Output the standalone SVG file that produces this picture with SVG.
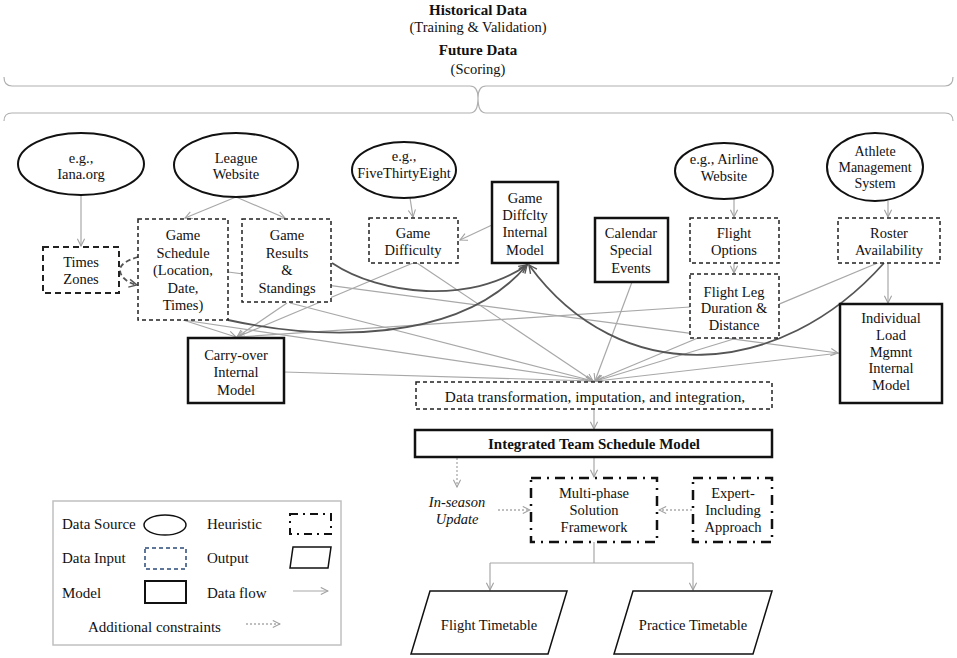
<svg xmlns="http://www.w3.org/2000/svg" width="957" height="658" viewBox="0 0 957 658">
<style>
text{font-family:"Liberation Serif","Times New Roman",serif;font-size:14.5px;fill:#111;text-anchor:middle}
.b{font-weight:bold;font-size:15px}
.lg{text-anchor:start;font-size:15px}
.it{font-style:italic}
.sm{font-size:14px}
.src{fill:#fff;stroke:#111;stroke-width:2}
.inp{fill:#fff;stroke:#222;stroke-width:1.5;stroke-dasharray:4,3}
.inp2{fill:#fff;stroke:#222;stroke-width:2;stroke-dasharray:6,4}
.mdl{fill:#fff;stroke:#111;stroke-width:2.5}
.heu{fill:#fff;stroke:#111;stroke-width:2.5;stroke-dasharray:10,6,2,6}
.out{fill:#fff;stroke:#111;stroke-width:1.5}
.fl{fill:none;stroke:#a8a8a8;stroke-width:1.2;marker-end:url(#ag)}
.fn{fill:none;stroke:#a8a8a8;stroke-width:1.2}
.dk{fill:none;stroke:#555;stroke-width:1.8;marker-end:url(#ad)}
.dt{fill:none;stroke:#aaa;stroke-width:1.3;stroke-dasharray:2,2;marker-end:url(#ag)}
.br{fill:none;stroke:#b0b0b0;stroke-width:1.2}
</style>
<defs>
<marker id="ag" viewBox="0 0 10 10" refX="9" refY="5" markerWidth="9" markerHeight="9" markerUnits="userSpaceOnUse" orient="auto"><path d="M1,1 L9,5 L1,9" fill="none" stroke="#a0a0a0" stroke-width="1.2"/></marker>
<marker id="ad" viewBox="0 0 10 10" refX="9" refY="5" markerWidth="10" markerHeight="10" markerUnits="userSpaceOnUse" orient="auto"><path d="M1,1 L9,5 L1,9" fill="none" stroke="#555" stroke-width="1.4"/></marker>
</defs>

<g id="header">
<text class="b" x="478" y="15">Historical Data</text>
<text x="478" y="32">(Training &amp; Validation)</text>
<text class="b" x="478" y="55">Future Data</text>
<text x="478" y="74">(Scoring)</text>
<path class="br" d="M4,77 Q4,86 12,86 L470,86 Q478,86 478,98 Q478,86 486,86 L945,86 Q953,86 953,77"/>
<path class="br" d="M4,121 Q4,113 12,113 L470,113 Q478,113 478,98 Q478,113 486,113 L945,113 Q953,113 953,121"/>
</g>

<g id="connectors">
<line class="fl" x1="81" y1="196" x2="81" y2="246"/>
<line class="fl" x1="236" y1="197" x2="185" y2="218"/>
<line class="fl" x1="236" y1="197" x2="285" y2="218"/>
<line class="fl" x1="410" y1="198" x2="413" y2="217"/>
<line class="fl" x1="492" y1="225" x2="460" y2="240"/>
<line class="fl" x1="734" y1="199" x2="734" y2="217"/>
<line class="fl" x1="734" y1="263" x2="734" y2="273"/>
<line class="fl" x1="888" y1="201" x2="888" y2="217"/>
<line class="fl" x1="888" y1="263" x2="888" y2="303"/>
<line class="fl" x1="183" y1="320" x2="236" y2="337"/>
<line class="fl" x1="287" y1="303" x2="237" y2="337"/>
<line class="fl" x1="413" y1="263" x2="237" y2="337"/>
<line class="fl" x1="690" y1="307" x2="238" y2="337"/>
<line class="fl" x1="228" y1="272" x2="838" y2="353"/>
<line class="fl" x1="183" y1="320" x2="593" y2="381"/>
<line class="fl" x1="290" y1="303" x2="593" y2="381"/>
<line class="fl" x1="417" y1="263" x2="593" y2="381"/>
<line class="fl" x1="284" y1="372" x2="593" y2="381"/>
<line class="fl" x1="632" y1="282" x2="595" y2="381"/>
<line class="fl" x1="880" y1="262" x2="595" y2="381"/>
<line class="fl" x1="737" y1="338" x2="596" y2="381"/>
<line class="fl" x1="840" y1="353" x2="597" y2="381"/>
<line class="fl" x1="594" y1="409" x2="594" y2="429"/>
<line class="fl" x1="594" y1="457" x2="594" y2="477"/>
<path class="fn" d="M594,542 V563 M490,563 H693"/>
<line class="fl" x1="490" y1="563" x2="490" y2="590"/>
<line class="fl" x1="693" y1="563" x2="693" y2="590"/>
<line class="dt" x1="457" y1="458" x2="457" y2="487"/>
<line class="dt" x1="498" y1="510" x2="530" y2="510"/>
<line class="dt" x1="692" y1="510" x2="659" y2="510"/>
<path class="dk" d="M332,263 C380,295 470,305 527,265"/>
<path class="dk" d="M228,320 C320,340 460,345 527,265"/>
<path class="dk" d="M884,263 C780,380 620,390 529,265"/>
<path class="dk" stroke-dasharray="5,3" d="M138,257 C128,260 120,264 120,270 C120,277 128,283 137,285"/>
</g>

<g id="iana"><ellipse class="src" cx="81" cy="164" rx="63" ry="31"/><text x="81" y="163">e.g.,</text><text x="81" y="179">Iana.org</text></g>
<g id="league"><ellipse class="src" cx="236" cy="165" rx="62" ry="32"/><text x="236" y="163">League</text><text x="236" y="179">Website</text></g>
<g id="fivethirtyeight"><ellipse class="src" cx="404" cy="170" rx="52" ry="28"/><text x="404" y="161">e.g.,</text><text x="404" y="178">FiveThirtyEight</text></g>
<g id="airline"><ellipse class="src" cx="724" cy="171" rx="49" ry="28"/><text x="724" y="164">e.g., Airline</text><text x="724" y="181">Website</text></g>
<g id="athlete"><ellipse class="src" cx="875" cy="167" rx="48" ry="34"/><text class="sm" x="875" y="156">Athlete</text><text class="sm" x="875" y="172">Management</text><text class="sm" x="875" y="188">System</text></g>

<g id="timezones"><rect class="inp2" x="43" y="247" width="76" height="46"/><text x="81" y="267">Times</text><text x="81" y="284">Zones</text></g>
<g id="gameschedule"><rect class="inp" x="138" y="219" width="90" height="101"/><text x="183" y="240">Game</text><text x="183" y="258">Schedule</text><text x="183" y="275">(Location,</text><text x="183" y="293">Date,</text><text x="183" y="310">Times)</text></g>
<g id="gameresults"><rect class="inp" x="242" y="219" width="89" height="83"/><text x="287" y="240">Game</text><text x="287" y="258">Results</text><text x="287" y="275">&amp;</text><text x="287" y="293">Standings</text></g>
<g id="gamedifficulty"><rect class="inp" x="369" y="218" width="89" height="45"/><text x="413" y="238">Game</text><text x="413" y="255">Difficulty</text></g>
<g id="gamediffmodel"><rect class="mdl" x="492" y="182" width="66" height="81"/><text x="525" y="203">Game</text><text x="525" y="220">Diffclty</text><text x="525" y="237">Internal</text><text x="525" y="255">Model</text></g>
<g id="calendar"><rect class="mdl" x="595" y="218" width="73" height="64"/><text x="631" y="238">Calendar</text><text x="631" y="255">Special</text><text x="631" y="273">Events</text></g>
<g id="flightoptions"><rect class="inp" x="690" y="218" width="89" height="45"/><text x="734" y="238">Flight</text><text x="734" y="255">Options</text></g>
<g id="roster"><rect class="inp" x="838" y="218" width="102" height="45"/><text x="889" y="238">Roster</text><text x="889" y="255">Availability</text></g>
<g id="flightleg"><rect class="inp" x="690" y="274" width="89" height="64"/><text x="734" y="297">Flight Leg</text><text x="734" y="313">Duration &amp;</text><text x="734" y="330">Distance</text></g>
<g id="carryover"><rect class="mdl" x="188" y="338" width="96" height="65"/><text x="236" y="360">Carry-over</text><text x="236" y="377">Internal</text><text x="236" y="395">Model</text></g>
<g id="individualload"><rect class="mdl" x="840" y="304" width="102" height="99"/><text x="891" y="323">Individual</text><text x="891" y="340">Load</text><text x="891" y="357">Mgmnt</text><text x="891" y="373">Internal</text><text x="891" y="390">Model</text></g>
<g id="datatransform"><rect class="inp" x="416" y="382" width="356" height="27"/><text x="595" y="402" style="font-size:15.3px">Data transformation, imputation, and integration,</text></g>
<g id="integrated"><rect class="mdl" x="415" y="430" width="357" height="27"/><text class="b" x="594" y="449">Integrated Team Schedule Model</text></g>
<g id="inseason"><text class="it" x="457" y="507">In-season</text><text class="it" x="457" y="524">Update</text></g>
<g id="multiphase"><rect class="heu" x="531" y="478" width="126" height="64"/><text x="594" y="498">Multi-phase</text><text x="594" y="515">Solution</text><text x="594" y="532">Framework</text></g>
<g id="expert"><rect class="heu" x="693" y="478" width="79" height="64"/><text x="733" y="498">Expert-</text><text x="733" y="515">Including</text><text x="733" y="532">Approach</text></g>
<g id="flighttimetable"><polygon class="out" points="430,591 567,591 548,654 411,654"/><text x="489" y="630">Flight Timetable</text></g>
<g id="practicetimetable"><polygon class="out" points="633,591 772,591 753,654 614,654"/><text x="693" y="630">Practice Timetable</text></g>

<g id="legend">
<rect x="53" y="501" width="288" height="144" fill="#fff" stroke="#c0c0c0" stroke-width="1.5"/>
<text class="lg" x="62" y="529">Data Source</text>
<ellipse cx="165" cy="525" rx="21" ry="10" fill="none" stroke="#111" stroke-width="1.5"/>
<text class="lg" x="207" y="529">Heuristic</text>
<rect x="290" y="514" width="41" height="20" fill="none" stroke="#111" stroke-width="2" stroke-dasharray="8,5,2,5"/>
<text class="lg" x="62" y="563">Data Input</text>
<rect x="145" y="548" width="41" height="21" fill="none" stroke="#2a4a7a" stroke-width="1.5" stroke-dasharray="4,3"/>
<text class="lg" x="207" y="563">Output</text>
<polygon points="293,547 331,547 328,568 290,568" fill="none" stroke="#111" stroke-width="1.5"/>
<text class="lg" x="62" y="598">Model</text>
<rect x="145" y="581" width="41" height="22" fill="none" stroke="#111" stroke-width="2"/>
<text class="lg" x="207" y="598">Data flow</text>
<line class="fl" x1="293" y1="591" x2="328" y2="591"/>
<text class="lg" x="88" y="632">Additional constraints</text>
<line class="dt" x1="246" y1="624" x2="280" y2="624"/>
</g>
</svg>
